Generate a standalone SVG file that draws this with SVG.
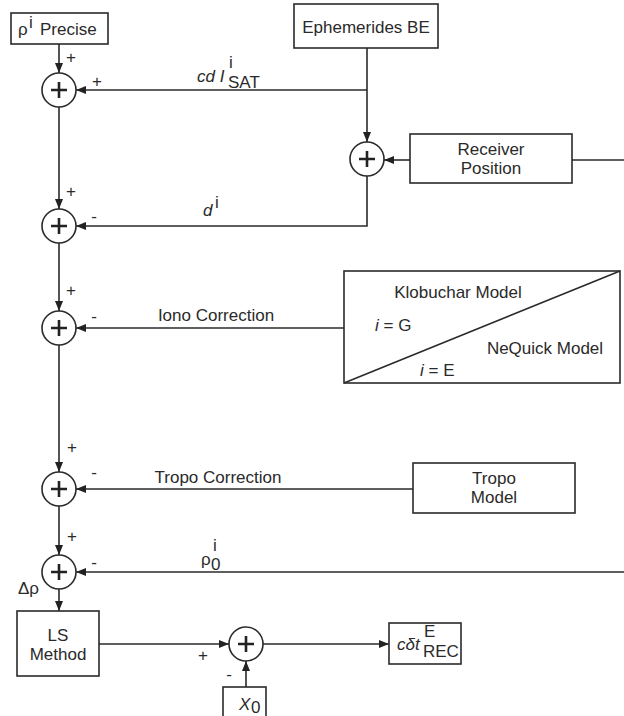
<svg xmlns="http://www.w3.org/2000/svg" width="624" height="716" viewBox="0 0 624 716">
<style>
  .box{fill:#fff;stroke:#2a2a2a;stroke-width:1.6}
  .sum{fill:#fff;stroke:#2a2a2a;stroke-width:1.6}
  .plus{fill:none;stroke:#222;stroke-width:2.6}
  .ln{fill:none;stroke:#2a2a2a;stroke-width:1.6}
  .ar{marker-end:url(#ah)}
  text{font-family:"Liberation Sans",Arial,sans-serif;font-size:17px;fill:#2a2a2a}
  .c{text-anchor:middle}
  .sg{font-size:17px;text-anchor:middle;fill:#2a2a2a}
  .it{font-style:italic}
</style>
<defs>
  <marker id="ah" viewBox="0 0 10 8" refX="10" refY="4" markerWidth="11" markerHeight="8" markerUnits="userSpaceOnUse" orient="auto">
    <path d="M0,0 L10,4 L0,8 z" fill="#222"/>
  </marker>
</defs>

<g id="connectors">
  <path class="ln ar" d="M59,44 V73"/>
  <path class="ln ar" d="M367,48 V142"/>
  <path class="ln ar" d="M367,90 H76"/>
  <path class="ln ar" d="M410,160 H384"/>
  <path class="ln" d="M572,160 H624"/>
  <path class="ln ar" d="M367,176 V226 H76"/>
  <path class="ln ar" d="M59,107 V209"/>
  <path class="ln ar" d="M59,243 V311"/>
  <path class="ln ar" d="M344,328 H76"/>
  <path class="ln ar" d="M59,345 V472"/>
  <path class="ln ar" d="M413,489 H76"/>
  <path class="ln ar" d="M59,506 V555"/>
  <path class="ln ar" d="M624,572 H76"/>
  <path class="ln ar" d="M59,589 V611"/>
  <path class="ln ar" d="M99,644 H229"/>
  <path class="ln ar" d="M246,687 V661"/>
  <path class="ln ar" d="M263,644 H389"/>
</g>

<g id="labels">
  <text x="197" y="82" class="it">cd I</text>
  <text x="229" y="68" font-size="12">i</text>
  <text x="228" y="88" font-size="14">SAT</text>
  <text x="203" y="216" class="it">d</text>
  <text x="215" y="208" font-size="11">i</text>
  <text x="216" y="321" class="c">Iono Correction</text>
  <text x="218" y="483" class="c">Tropo Correction</text>
  <text x="201" y="565" font-size="16">ρ</text>
  <text x="213" y="551" font-size="11">i</text>
  <text x="211" y="570" font-size="13">0</text>
  <text x="18" y="594" font-size="16">Δρ</text>
  <text x="71" y="63" class="sg">+</text>
  <text x="97" y="87" class="sg">+</text>
  <text x="71" y="197" class="sg">+</text>
  <text x="94" y="222" class="sg">-</text>
  <text x="71" y="296" class="sg">+</text>
  <text x="94" y="322" class="sg">-</text>
  <text x="72" y="453" class="sg">+</text>
  <text x="94" y="478" class="sg">-</text>
  <text x="72" y="542" class="sg">+</text>
  <text x="94" y="568" class="sg">-</text>
  <text x="203" y="661" class="sg">+</text>
  <text x="229" y="680" class="sg">-</text>
</g>

<g id="precise">
  <rect class="box" x="11" y="13" width="97" height="31"/>
  <text x="18" y="35">ρ</text>
  <text x="29" y="28" font-size="11">i</text>
  <text x="40" y="35">Precise</text>
</g>
<g id="ephemerides">
  <rect class="box" x="294" y="4" width="144" height="44"/>
  <text x="366" y="33" class="c">Ephemerides BE</text>
</g>
<g id="receiver">
  <rect class="box" x="410" y="134" width="162" height="49"/>
  <text x="491" y="155" class="c" font-size="16">Receiver</text>
  <text x="491" y="174" class="c" font-size="16">Position</text>
</g>
<g id="iono-model">
  <rect class="box" x="344" y="271" width="276" height="112"/>
  <path class="ln" d="M344,383 L620,271"/>
  <text x="458" y="298" class="c">Klobuchar Model</text>
  <text x="375" y="331"><tspan class="it">i</tspan> = G</text>
  <text x="545" y="354" class="c">NeQuick Model</text>
  <text x="420" y="376"><tspan class="it">i</tspan> = E</text>
</g>
<g id="tropo-model">
  <rect class="box" x="413" y="463" width="162" height="50"/>
  <text x="494" y="484" class="c" font-size="16">Tropo</text>
  <text x="494" y="503" class="c" font-size="16">Model</text>
</g>
<g id="ls">
  <rect class="box" x="17" y="611" width="82" height="65"/>
  <text x="58" y="641" class="c" font-size="16">LS</text>
  <text x="58" y="660" class="c" font-size="16">Method</text>
</g>
<g id="x0">
  <rect class="box" x="223" y="687" width="43" height="34"/>
  <text x="239" y="710" class="it">X</text>
  <text x="251" y="713" font-size="13">0</text>
</g>
<g id="output">
  <rect class="box" x="389" y="623" width="72" height="41"/>
  <text x="397" y="650" class="it">cδt</text>
  <text x="424" y="637" font-size="13">E</text>
  <text x="423" y="657" font-size="14">REC</text>
</g>

<g id="sum1"><circle class="sum" cx="59" cy="90" r="17"/><path class="plus" d="M51,90 H67 M59,82 V98"/></g>
<g id="sum2"><circle class="sum" cx="367" cy="159" r="17"/><path class="plus" d="M359,159 H375 M367,151 V167"/></g>
<g id="sum3"><circle class="sum" cx="59" cy="226" r="17"/><path class="plus" d="M51,226 H67 M59,218 V234"/></g>
<g id="sum4"><circle class="sum" cx="59" cy="328" r="17"/><path class="plus" d="M51,328 H67 M59,320 V336"/></g>
<g id="sum5"><circle class="sum" cx="59" cy="489" r="17"/><path class="plus" d="M51,489 H67 M59,481 V497"/></g>
<g id="sum6"><circle class="sum" cx="59" cy="572" r="17"/><path class="plus" d="M51,572 H67 M59,564 V580"/></g>
<g id="sum7"><circle class="sum" cx="246" cy="644" r="17"/><path class="plus" d="M238,644 H254 M246,636 V652"/></g>
</svg>
